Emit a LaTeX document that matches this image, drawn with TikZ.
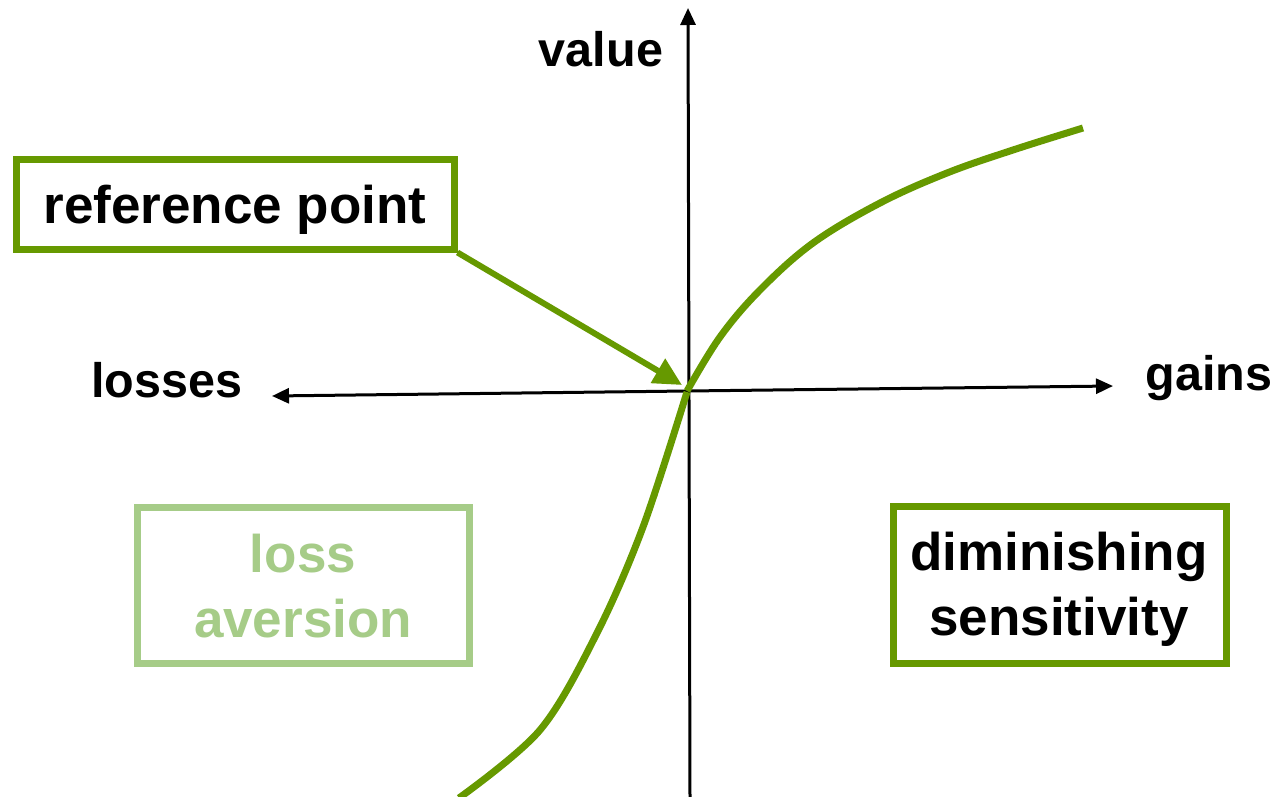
\documentclass[tikz,border=0pt]{standalone}
\usepackage{fontspec}
\setmainfont{Liberation Sans}
\usetikzlibrary{arrows.meta}
\definecolor{leafgreen}{RGB}{102,153,0}
\definecolor{palegreen}{RGB}{166,204,136}
\tikzset{
  axisline/.style={line width=3pt,-{Triangle[length=17pt,width=15pt]}},
  curveline/.style={line width=7pt,leafgreen},
  pointer/.style={line width=6pt,leafgreen,-{Triangle[length=28pt,width=27pt]}},
  boxbase/.style={rectangle,line width=7pt,inner sep=0pt,fill=white},
  darkbox/.style={boxbase,draw=leafgreen},
  palebox/.style={boxbase,draw=palegreen},
  boxtext/.style={font=\fontsize{53}{65}\selectfont\bfseries,align=center,inner sep=0pt},
  axislabel/.style={font=\fontsize{48.5}{58}\selectfont\bfseries,inner sep=0pt,anchor=base}
}
\begin{document}
\begin{tikzpicture}[x=1pt,y=-1pt]
\useasboundingbox (0,0) rectangle (1275,796);
% axes
\coordinate (hl) at (272,396);
\coordinate (hr) at (1113,386);
\coordinate (vb) at (690,797);
\coordinate (vt) at (688,8);
\coordinate (origin) at (687,391);
\draw[axisline] (origin) -- (hl);
\draw[axisline] (origin) -- (hr);
\draw[axisline] (vb) -- (vt);
% value curve
\draw[curveline] plot[smooth,tension=0.55] coordinates {(459,798) (540,730) (597,633) (643,527) (687,392)};
\draw[curveline] plot[smooth,tension=0.6] coordinates {(687,391) (720,337) (760,290) (813,243) (880,203) (947,173) (1013,150) (1083,128)};
% labels
\node[axislabel] (value) at (601,66) {value};
\node[axislabel] (losses) at (167,397) {losses};
\node[axislabel] (gains) at (1209,390) {gains};
% boxes
\node[darkbox,minimum width=438pt,minimum height=90pt,
      font=\fontsize{53}{65}\selectfont\bfseries,text height=38pt,text depth=0pt]
      (refbox) at (235,204) {reference point};
\node[palebox,minimum width=332pt,minimum height=156pt] (lossbox) at (303,585) {};
\node[boxtext,text=palegreen] (losstext) at (303,586) {loss\\aversion};
\node[darkbox,minimum width=333pt,minimum height=157pt] (dimbox) at (1059.5,584.5) {};
\node[boxtext] (dimtext) at (1059,589) {diminishing\\sensitivity};
% pointer
\coordinate (tip) at (682,385);
\draw[pointer] (refbox.south east) -- (tip);
\end{tikzpicture}
\end{document}
